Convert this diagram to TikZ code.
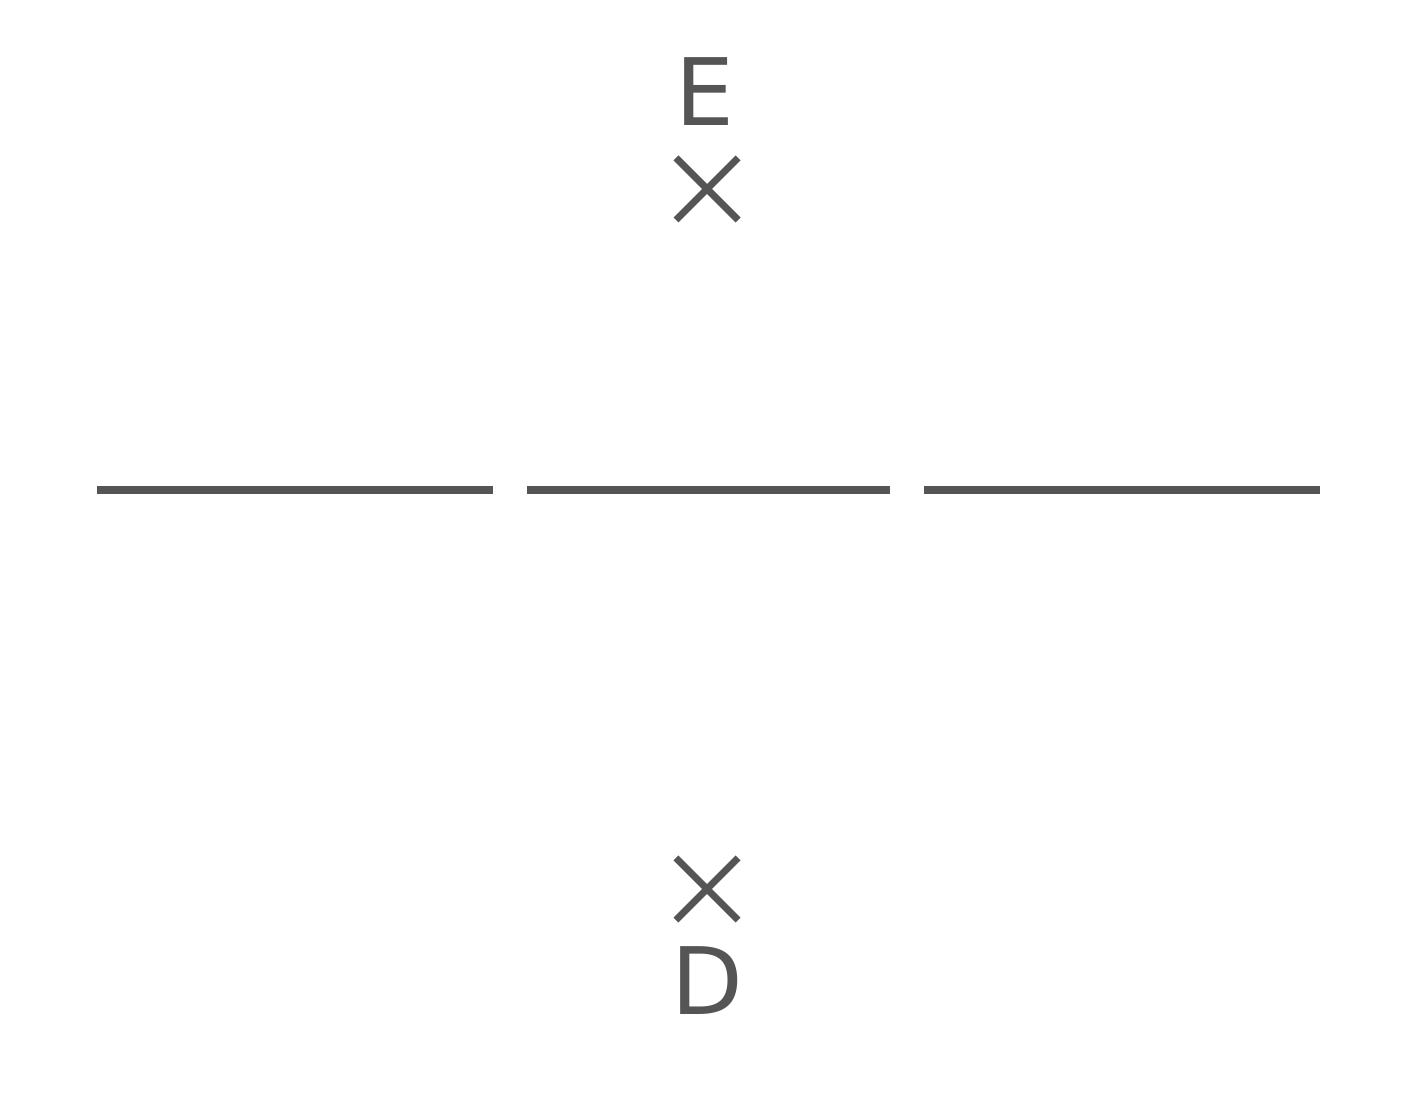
\documentclass[tikz,border=0pt]{standalone}
\usepackage{fontspec}
\setmainfont{DejaVu Sans}
\usetikzlibrary{shapes.misc}
\definecolor{ink}{HTML}{555555}
\tikzset{
  seg/.style={draw=ink, line width=2pt},
  mark x/.style={cross out, draw=ink, line width=2pt, minimum size=0.55cm, inner sep=0pt},
  letter/.style={text=ink, font=\fontsize{26.5}{30}\selectfont, anchor=base, inner sep=0pt}
}
\begin{document}
\begin{tikzpicture}
\useasboundingbox[fill=white] (0,0) rectangle (14.18,11.09);
\coordinate (a1) at (0.97,6.19);
\coordinate (a2) at (4.93,6.19);
\coordinate (b1) at (5.27,6.19);
\coordinate (b2) at (8.90,6.19);
\coordinate (c1) at (9.24,6.19);
\coordinate (c2) at (13.20,6.19);
\draw[seg] (a1) -- (a2);
\draw[seg] (b1) -- (b2);
\draw[seg] (c1) -- (c2);
\node[mark x] (xtop) at (7.07,9.20) {};
\node[mark x] (xbot) at (7.07,2.20) {};
\node[letter] (E) at (7.05,9.83) {E};
\node[letter] (D) at (7.07,0.94) {D};
\end{tikzpicture}
\end{document}
